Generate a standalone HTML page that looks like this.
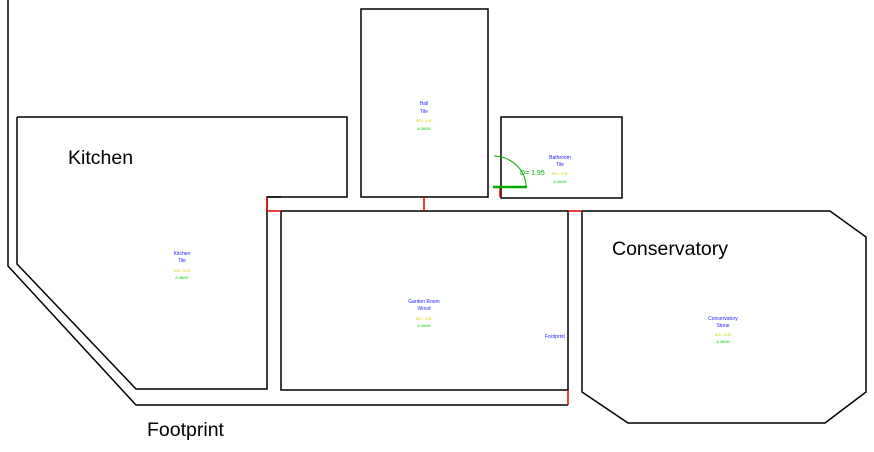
<!DOCTYPE html>
<html><head><style>body{margin:0;background:#fff}svg{display:block}</style></head><body>
<svg width="874" height="452" viewBox="0 0 874 452" xmlns="http://www.w3.org/2000/svg" font-family="Liberation Sans, sans-serif">
<g fill="none" stroke="#000" stroke-width="1.5">
<polyline points="8,0 8,266 136,405 568,405"/>
<polyline points="17,117 17,264 136,389 267,389 267,197 347,197 347,117 17,117"/>
<polyline points="281,211 568,211 568,390 281,390 281,211"/>
<line x1="267" y1="197" x2="281" y2="197"/>
<rect x="361" y="9" width="127" height="188"/>
<rect x="501" y="117" width="121" height="81"/>
<polygon points="582,211 830,211 866,237 866,392 825,423 628,423 582,392"/>
</g>
<g stroke="#e00" stroke-width="1.5" fill="none">
<line x1="267" y1="197" x2="267" y2="211"/><line x1="267" y1="211" x2="281" y2="211"/>
<line x1="424" y1="197" x2="424" y2="211"/>
<line x1="568" y1="211" x2="582" y2="211"/>
<line x1="568" y1="390" x2="568" y2="405"/>
<polyline points="493,187 500,187 500,197"/>
</g>
<g stroke="#0a0" fill="none">
<line x1="493" y1="187" x2="527" y2="187" stroke-width="2.5"/>
<path d="M494,156 A33,31 0 0 1 526,187" stroke-width="1"/>
</g>
<text x="520" y="175" font-size="7" fill="#0a0">D= 1.95</text>
<g font-size="5" text-anchor="middle">
<text x="424" y="105" fill="#22f">Hall</text><text x="424" y="113" fill="#22f">Tile</text>
<text x="424" y="122" fill="#cc0" font-size="4">SO= 3.00</text><text x="424" y="130" fill="#0c0" font-size="4">A 38/50</text>
<text x="560" y="159" fill="#22f">Bathroom</text><text x="560" y="166" fill="#22f">Tile</text>
<text x="560" y="175" fill="#cc0" font-size="4">SO= 3.00</text><text x="560" y="183" fill="#0c0" font-size="4">A 38/50</text>
<text x="182" y="255" fill="#22f">Kitchen</text><text x="182" y="262" fill="#22f">Tile</text>
<text x="182" y="272" fill="#cc0" font-size="4">SO= 3.00</text><text x="182" y="279" fill="#0c0" font-size="4">A 38/50</text>
<text x="424" y="303" fill="#22f">Garden Room</text><text x="424" y="310" fill="#22f">Wood</text>
<text x="424" y="320" fill="#cc0" font-size="4">SO= 3.00</text><text x="424" y="327" fill="#0c0" font-size="4">A 38/50</text>
<text x="723" y="320" fill="#22f">Conservatory</text><text x="723" y="327" fill="#22f">Stone</text>
<text x="723" y="336" fill="#cc0" font-size="4">SO= 3.00</text><text x="723" y="343" fill="#0c0" font-size="4">A 38/50</text>
<text x="555" y="338" fill="#22f">Footprint</text>
</g>
<g font-size="19.5" fill="#000">
<text x="68" y="164">Kitchen</text>
<text x="612" y="255">Conservatory</text>
<text x="147" y="436">Footprint</text>
</g>
</svg>
</body></html>
